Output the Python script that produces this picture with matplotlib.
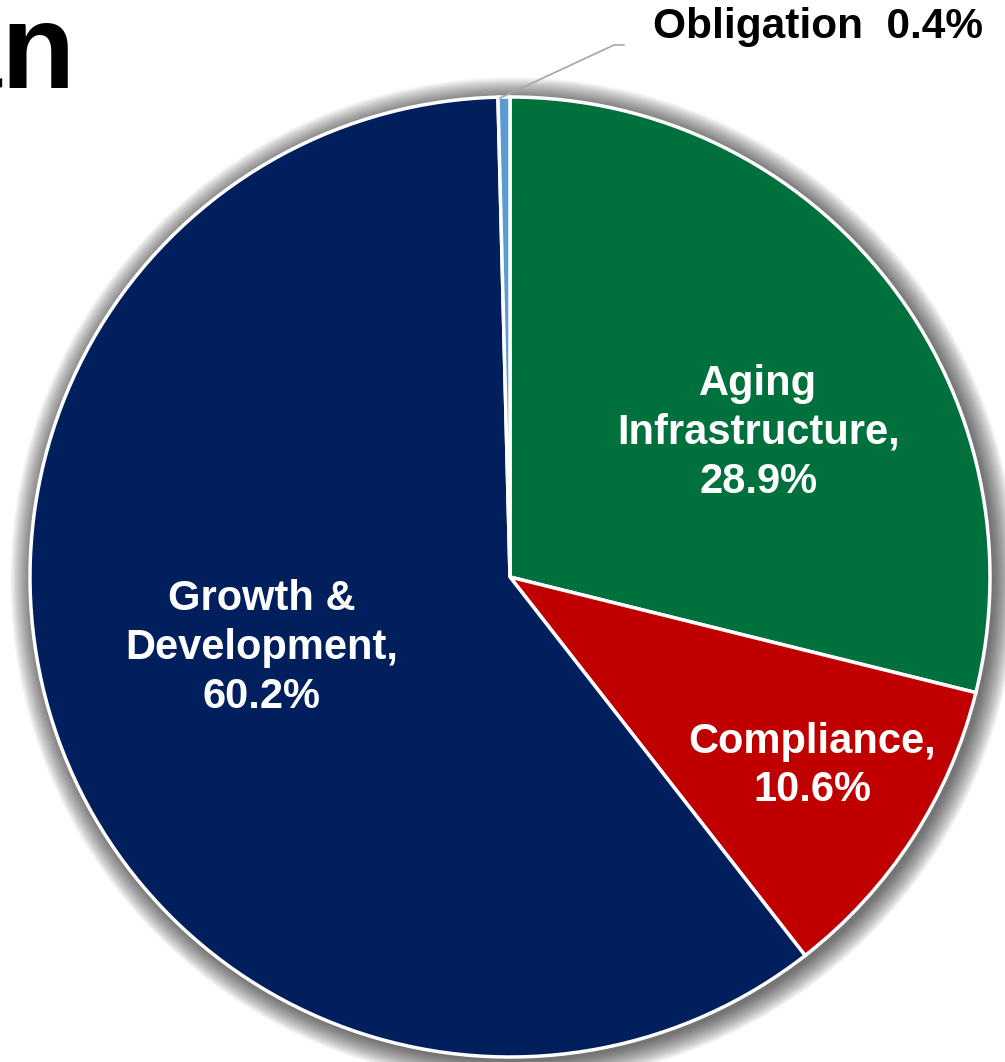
import matplotlib
matplotlib.use("Agg")
import matplotlib.pyplot as plt
from matplotlib.patches import Circle

plt.rcParams['font.family'] = ['Liberation Sans', 'DejaVu Sans']

# capital program share by driver (clockwise from 12 o'clock)
categories = ["Aging\nInfrastructure,", "Compliance,", "Growth &\nDevelopment,", "Obligation"]
shares = [28.9, 10.6, 60.2, 0.4]
colors = ["#00703C", "#C00000", "#001F5C", "#5B9BD5"]
title = "Plan"

W, H = 1005, 1062
fig = plt.figure(figsize=(W / 100, H / 100), dpi=100)

# pie centre (510, 577) px, radius 480 px
cx, cy, r = 510, 577, 480
ax = fig.add_axes([(cx - r) / W, (H - cy - r) / H, 2 * r / W, 2 * r / H])
ax.set_aspect("equal")
ax.axis("off")

# soft shadow around the disc
n = 20
for k in range(n):
    ax.add_patch(Circle((0.007, -0.007), 1.0 + 0.0024 * (n - k), color="black",
                        alpha=0.035, lw=0, zorder=0, clip_on=False))

wedges, _ = ax.pie(shares, colors=colors, startangle=90, counterclock=False,
                   radius=1.0, wedgeprops=dict(edgecolor="white", linewidth=2.5),
                   frame=False)
for w in wedges:
    w.set_zorder(2)
    w.set_clip_on(False)
ax.set_xlim(-1, 1)
ax.set_ylim(-1, 1)

# in-slice labels
label_pos = [(0.517, 0.30), (0.629, -0.394), (-0.517, -0.148)]
for (x, y), cat, val in zip(label_pos, categories[:3], shares[:3]):
    ax.text(x, y, f"{cat}\n{val:.1f}%", color="white", fontsize=30, fontweight="bold",
            ha="center", va="center", linespacing=1.28, zorder=5)

# leader line and label for the thin slice
def px(x, y):
    return ((x - cx) / r, (cy - y) / r)

x0, y0 = px(500, 98)
x1, y1 = px(614, 45)
x2, y2 = px(624, 45)
ax.plot([x0, x1, x2], [y0, y1, y2], color="#A6A6A6", lw=1.2, zorder=4, clip_on=False)
fig.text(653 / W, 1 - 27 / H, f"{categories[3]}  {shares[3]:.1f}%", color="black",
         fontsize=30.5, fontweight="bold", ha="left", va="center")

# title, running off the left edge
fig.text(76 / W, 1 - 88 / H, title, color="black", fontsize=87, fontweight="bold",
         ha="right", va="baseline")

fig.savefig("out.png", dpi=100)
